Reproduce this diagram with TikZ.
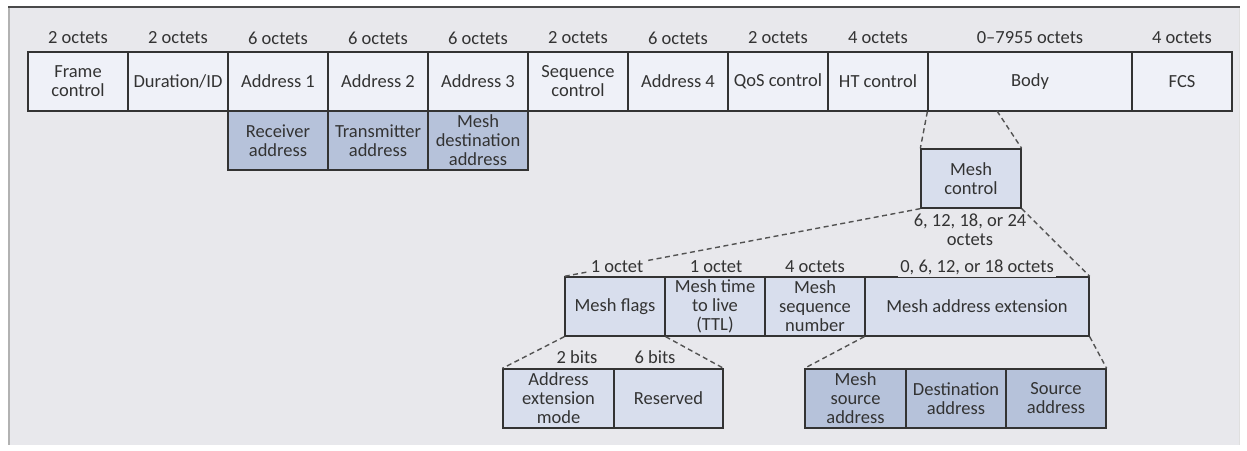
\documentclass[tikz,border=0pt]{standalone}
\usepackage{fontspec}
\setmainfont{Carlito}
\usetikzlibrary{positioning}
\definecolor{panelbg}{HTML}{E8E8EC}
\definecolor{rimgray}{HTML}{4A4A4A}
\definecolor{inkgray}{HTML}{333333}
\definecolor{pale}{HTML}{EFF1F8}
\definecolor{lightblue}{HTML}{D8DEED}
\definecolor{midblue}{HTML}{B6C2DA}
\newcommand\fieldfont{\fontsize{18.5}{19}\selectfont}
\tikzset{
  field/.style={draw=inkgray, line width=1.3pt, fill=pale, text=inkgray,
    inner sep=0pt, minimum height=59pt, align=center, font=\fieldfont},
  subfield/.style={field, fill=lightblue},
  addrfield/.style={field, fill=midblue},
  octlabel/.style={text=inkgray, inner sep=2pt, font=\fieldfont, fill=panelbg, align=center},
  zoomline/.style={draw=inkgray!85, dash pattern=on 5pt off 3.5pt, line width=1.4pt},
}

\begin{document}
\begin{tikzpicture}[x=1pt,y=-1pt]
\useasboundingbox (0,0) rectangle (1247,450);
% panel
\fill[panelbg] (8,7) rectangle (1240,445);
\draw[gray!60, line width=1.5pt] (9,7) -- (9,445);
\draw[gray!25, line width=1pt] (1239,7) -- (1239,445);
\draw[rimgray, line width=1.5pt] (8,7) -- (1240,7);

% MAC frame
\foreach \n/\l/\r/\s/\t in {fc/28/128/2 octets/{Frame\\control},
    dur/128/228/2 octets/{Duration/ID}, aone/228/328/6 octets/Address 1,
    atwo/328/428/6 octets/Address 2, athree/428/528/6 octets/Address 3,
    seq/528/628/2 octets/{Sequence\\control}, afour/628/728/6 octets/Address 4,
    qos/728/828/2 octets/QoS control, ht/828/928/4 octets/HT control,
    body/928/1132/0--7955 octets/Body, fcs/1132/1232/4 octets/FCS}
{
  \node[field, minimum width={\r-\l}] (\n) at ({(\l+\r)/2},81.5) {\t};
  \node[octlabel] (\n-len) at ({(\l+\r)/2},38) {\s};
}

% address meaning
\node[addrfield, minimum width=100] (ra) at (278,140.5) {Receiver\\address};
\node[addrfield, minimum width=100] (ta) at (378,140.5) {Transmitter\\address};
\node[addrfield, minimum width=100] (mda) at (478,140.5) {Mesh\\destination\\address};

% mesh control
\coordinate (bodycut) at (997,111);
\node[subfield, minimum width=100] (mc) at (971,178.5) {Mesh\\control};
\draw[zoomline] (body.south west) -- (mc.north west);
\draw[zoomline] (bodycut) -- (mc.north east);

\node[subfield, minimum width=100] (flags) at (615,306.5) {Mesh flags};
\node[subfield, minimum width=100] (ttl) at (715,306.5) {Mesh time\\to live\\(TTL)};
\node[subfield, minimum width=100] (msn) at (815,306.5) {Mesh\\sequence\\number};
\node[subfield, minimum width=224] (ext) at (977,306.5) {Mesh address extension};
\draw[zoomline] (mc.south west) -- (flags.north west);
\draw[zoomline] (mc.south east) -- (ext.north east);
\node[octlabel, fill=none] (mc-len) at (970,230) {6, 12, 18, or 24\\octets};
\node[octlabel] (flags-len) at (617,267) {1 octet};
\node[octlabel] (ttl-len) at (716,267) {1 octet};
\node[octlabel] (msn-len) at (815,267) {4 octets};
\node[octlabel] (ext-len) at (977,267) {0, 6, 12, or 18 octets};

% mesh flags
\node[subfield, minimum width=111] (aem) at (558.5,398.5) {Address\\extension\\mode};
\node[subfield, minimum width=109] (res) at (668.5,398.5) {Reserved};
\draw[zoomline] (flags.south west) -- (aem.north west);
\draw[zoomline] (flags.south east) -- (res.north east);
\node[octlabel] (aem-len) at (577,357) {2 bits};
\node[octlabel] (res-len) at (655,357) {6 bits};

% address extension
\node[addrfield, minimum width=101] (msa) at (855.5,398.5) {Mesh\\source\\address};
\node[addrfield, minimum width=100] (da) at (956,398.5) {Destination\\address};
\node[addrfield, minimum width=100] (sa) at (1056,398.5) {Source\\address};
\draw[zoomline] (ext.south west) -- (msa.north west);
\draw[zoomline] (ext.south east) -- (sa.north east);
\end{tikzpicture}
\end{document}
